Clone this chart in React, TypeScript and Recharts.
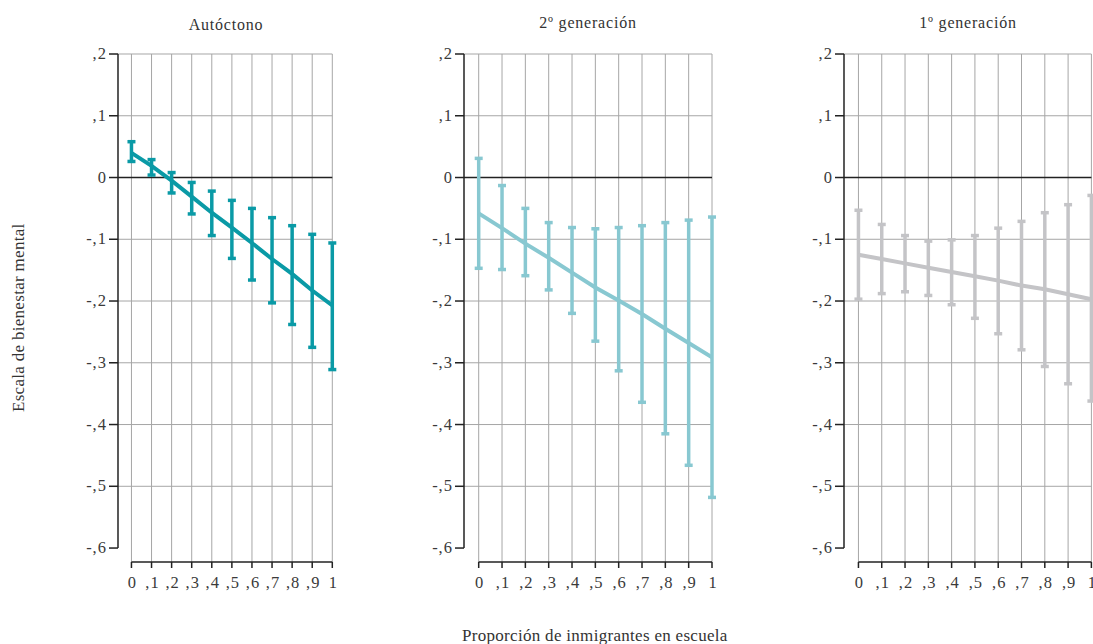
import React from "react";
import {
  ComposedChart,
  Line,
  ErrorBar,
  XAxis,
  YAxis,
  CartesianGrid,
  ReferenceLine,
} from "recharts";

const xValues = [0, 0.1, 0.2, 0.3, 0.4, 0.5, 0.6, 0.7, 0.8, 0.9, 1];
const xTickLabels = ["0", ",1", ",2", ",3", ",4", ",5", ",6", ",7", ",8", ",9", "1"];
const yTicks = [0.2, 0.1, 0, -0.1, -0.2, -0.3, -0.4, -0.5, -0.6];
const yTickLabels = [",2", ",1", "0", "-,1", "-,2", "-,3", "-,4", "-,5", "-,6"];
const gridYValues = [0.2, 0.1, -0.1, -0.2, -0.3, -0.4, -0.5];

const panelTitles = ["Autóctono", "2º generación", "1º generación"];
const yAxisTitle = "Escala de bienestar mental";
const xAxisTitle = "Proporción de inmigrantes en escuela";

const autoctonoFit = [0.04, 0.019, -0.005, -0.031, -0.057, -0.081, -0.106, -0.132, -0.156, -0.183, -0.207];
const autoctonoUpper = [0.058, 0.029, 0.008, -0.008, -0.022, -0.037, -0.05, -0.065, -0.078, -0.092, -0.106];
const autoctonoLower = [0.026, 0.004, -0.025, -0.059, -0.094, -0.131, -0.166, -0.203, -0.238, -0.275, -0.311];

const segundaFit = [-0.058, -0.082, -0.107, -0.13, -0.154, -0.178, -0.199, -0.221, -0.245, -0.268, -0.291];
const segundaUpper = [0.031, -0.013, -0.05, -0.073, -0.081, -0.083, -0.081, -0.078, -0.073, -0.069, -0.064];
const segundaLower = [-0.147, -0.149, -0.159, -0.182, -0.22, -0.265, -0.313, -0.364, -0.415, -0.466, -0.518];

const primeraFit = [-0.125, -0.132, -0.139, -0.146, -0.153, -0.16, -0.167, -0.175, -0.181, -0.189, -0.197];
const primeraUpper = [-0.053, -0.076, -0.094, -0.103, -0.101, -0.094, -0.082, -0.071, -0.057, -0.044, -0.029];
const primeraLower = [-0.197, -0.188, -0.185, -0.191, -0.206, -0.228, -0.253, -0.279, -0.306, -0.334, -0.362];

const Y_MIN = -0.6226;
const Y_MAX = 0.2;
const FONT = "'Liberation Serif', 'Times New Roman', serif";
const TICK_STYLE: React.CSSProperties = {
  fontFamily: FONT,
  fontSize: 16.5,
  fill: "#3a3a3a",
  letterSpacing: 1,
};

function buildData(fit: number[], upper: number[], lower: number[]) {
  return xValues.map((x, i) => ({
    x,
    fit: fit[i],
    err: [fit[i] - lower[i], upper[i] - fit[i]],
  }));
}

function XTick(props: any) {
  const { x, y, index } = props;
  return (
    <text x={x} y={y} dx={1} dy={12} textAnchor="middle" style={TICK_STYLE}>
      {xTickLabels[index]}
    </text>
  );
}

function YTick(props: any) {
  const { x, y, index } = props;
  return (
    <text x={x} y={y} dy={5} textAnchor="end" style={TICK_STYLE}>
      {yTickLabels[index]}
    </text>
  );
}

type PanelProps = {
  left: number;
  top: number;
  plotWidth: number;
  plotHeight: number;
  xMin: number;
  color: string;
  fit: number[];
  upper: number[];
  lower: number[];
};

const M = { top: 10, right: 12, bottom: 10, left: 10 };
const Y_AXIS_W = 40;
const X_AXIS_H = 30;

function Panel(p: PanelProps) {
  const width = p.plotWidth + M.left + M.right + Y_AXIS_W;
  const height = p.plotHeight + M.top + M.bottom + X_AXIS_H;
  const data = buildData(p.fit, p.upper, p.lower);
  return (
    <div style={{ position: "absolute", left: p.left - M.left - Y_AXIS_W, top: p.top - M.top }}>
      <ComposedChart width={width} height={height} data={data} margin={M}>
        <CartesianGrid
          stroke="#a6a6a6"
          strokeWidth={1}
          horizontalValues={gridYValues}
          verticalValues={xValues}
        />
        <XAxis
          dataKey="x"
          type="number"
          domain={[p.xMin, 1]}
          ticks={xValues}
          interval={0}
          allowDataOverflow
          height={X_AXIS_H}
          axisLine={false}
          tickLine={{ stroke: "#222", strokeWidth: 1.5 }}
          tickSize={6}
          tickMargin={8}
          tick={<XTick />}
        />
        <YAxis
          type="number"
          domain={[Y_MIN, Y_MAX]}
          ticks={yTicks}
          interval={0}
          allowDataOverflow
          width={Y_AXIS_W}
          axisLine={false}
          tickLine={{ stroke: "#222", strokeWidth: 1.5 }}
          tickSize={9}
          tickMargin={2}
          tick={<YTick />}
        />
        <ReferenceLine y={0} stroke="#222" strokeWidth={1.5} />
        <ReferenceLine
          segment={[
            { x: p.xMin, y: Y_MAX },
            { x: p.xMin, y: -0.6 },
          ]}
          stroke="#222"
          strokeWidth={1.5}
        />
        <ReferenceLine
          segment={[
            { x: 0, y: Y_MIN },
            { x: 1, y: Y_MIN },
          ]}
          stroke="#222"
          strokeWidth={1.5}
        />
        <Line
          dataKey="fit"
          type="linear"
          stroke={p.color}
          strokeWidth={4}
          dot={false}
          activeDot={false}
          isAnimationActive={false}
        >
          <ErrorBar
            dataKey="err"
            direction="y"
            width={4}
            stroke={p.color}
            strokeWidth={3.5}
            isAnimationActive={false}
          />
        </Line>
      </ComposedChart>
    </div>
  );
}

const titleStyle: React.CSSProperties = {
  fontFamily: FONT,
  fontSize: 16,
  letterSpacing: 0.8,
  fill: "#333",
};
const axisTitleStyle: React.CSSProperties = {
  fontFamily: FONT,
  fontSize: 17,
  letterSpacing: 0.3,
  fill: "#333",
};

export default function App() {
  return (
    <div
      style={{
        position: "relative",
        width: 1093,
        height: 644,
        overflow: "hidden",
        background: "#fff",
        fontFamily: FONT,
      }}
    >
      <style>{"body{margin:0;}"}</style>
      <Panel left={118} top={54} plotWidth={214.3} plotHeight={508} xMin={-0.067} color="#0a9aa6" fit={autoctonoFit} upper={autoctonoUpper} lower={autoctonoLower} />
      <Panel left={464.3} top={54} plotWidth={248} plotHeight={508} xMin={-0.063} color="#88c8d1" fit={segundaFit} upper={segundaUpper} lower={segundaLower} />
      <Panel left={844.3} top={54} plotWidth={247.4} plotHeight={508} xMin={-0.062} color="#c4c4c7" fit={primeraFit} upper={primeraUpper} lower={primeraLower} />

      <svg
        width={1093}
        height={644}
        style={{ position: "absolute", left: 0, top: 0, pointerEvents: "none" }}
      >
        <text x={226} y={30} textAnchor="middle" style={titleStyle}>{panelTitles[0]}</text>
        <text x={588} y={28} textAnchor="middle" style={titleStyle}>{panelTitles[1]}</text>
        <text x={968} y={28} textAnchor="middle" style={titleStyle}>{panelTitles[2]}</text>
        <text x={0} y={0} transform="translate(24, 412) rotate(-90)" textAnchor="start" style={axisTitleStyle}>
          {yAxisTitle}
        </text>
        <text x={462} y={641} textAnchor="start" style={axisTitleStyle}>{xAxisTitle}</text>
      </svg>
    </div>
  );
}
